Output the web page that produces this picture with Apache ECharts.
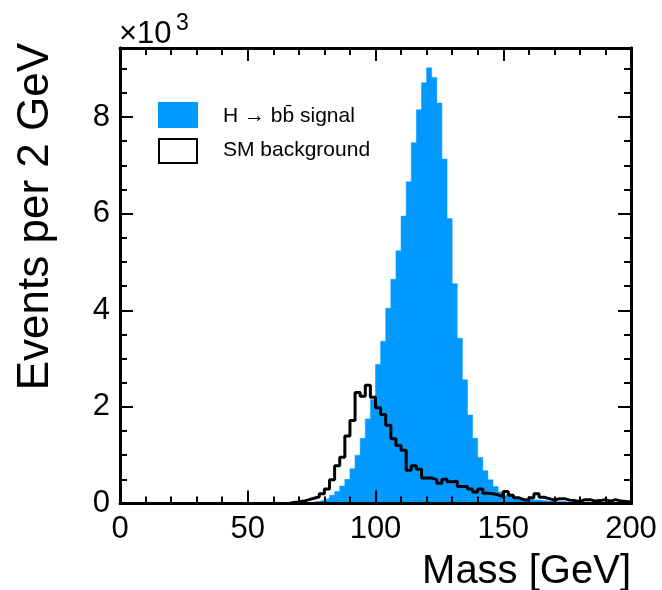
<!DOCTYPE html>
<html>
<head>
<meta charset="utf-8">
<script src="https://cdn.jsdelivr.net/npm/echarts@6/dist/echarts.min.js"></script>
<style>
  html, body { margin: 0; padding: 0; background: #fff; }
  #chart { width: 662px; height: 590px; }
</style>
</head>
<body>
<div id="chart"></div>
<script>
// Histogram binning: 100 bins of 2 GeV from 0 to 200 GeV
const BIN_WIDTH = 2;
const X_MIN = 0, X_MAX = 200;

// Signal: H -> bb̄ (events per 2 GeV, in units of 10^3)
const signalCounts = [
  0, 0, 0, 0, 0, 0, 0, 0, 0, 0,
  0, 0, 0, 0, 0, 0, 0, 0, 0, 0,
  0, 0, 0, 0, 0, 0, 0, 0, 0, 0,
  0, 0, 0, 0, 0.01, 0.015, 0.02, 0.03, 0.045, 0.07,
  0.11, 0.17, 0.25, 0.36, 0.5, 0.72, 1.0, 1.35, 1.75, 2.15,
  2.88, 3.36, 4.04, 4.64, 5.23, 5.95, 6.66, 7.47, 8.15, 8.71,
  9.02, 8.82, 8.29, 7.13, 5.9, 4.55, 3.42, 2.56, 1.83, 1.35,
  0.95, 0.68, 0.49, 0.35, 0.24, 0.17, 0.14, 0.12, 0.1, 0.09,
  0.08, 0.07, 0.06, 0.05, 0.05, 0.04, 0.04, 0.03, 0.03, 0.03,
  0.02, 0.02, 0.02, 0.02, 0.02, 0.01, 0.01, 0.01, 0.01, 0.01
];

// SM background (events per 2 GeV, in units of 10^3)
const backgroundCounts = [
  0, 0, 0, 0, 0, 0, 0, 0, 0, 0,
  0, 0, 0, 0, 0, 0, 0, 0, 0, 0,
  0, 0, 0, 0, 0, 0, 0, 0, 0, 0,
  0, 0, 0, 0.02, 0.03, 0.05, 0.08, 0.11, 0.14, 0.2,
  0.3, 0.49, 0.78, 0.96, 1.4, 1.72, 2.3, 2.22, 2.45, 2.2,
  1.98, 1.84, 1.62, 1.34, 1.2, 1.1, 0.69, 0.78, 0.71, 0.53,
  0.53, 0.49, 0.42, 0.5, 0.45, 0.46, 0.35, 0.35, 0.3, 0.24,
  0.3, 0.21, 0.2, 0.18, 0.14, 0.25, 0.17, 0.12, 0.08, 0.07,
  0.12, 0.2, 0.13, 0.1, 0.07, 0.1, 0.1, 0.07, 0.06, 0.04,
  0.08, 0.08, 0.05, 0.06, 0.08, 0.05, 0.08, 0.05, 0.04, 0.03
];

const xTickValues = [0, 50, 100, 150, 200];
const yTickValues = [0, 2, 4, 6, 8];
const Y_MAX = 9.43;

const seriesNames = ['H \u2192 bb\u0304 signal', 'SM background'];
const xTitle = 'Mass [GeV]';
const yTitle = 'Events per 2 GeV';

// Build step data: left edge of each bin + closing right edge
function stepData(counts) {
  const pts = counts.map((v, i) => [X_MIN + i * BIN_WIDTH, v]);
  pts.push([X_MIN + counts.length * BIN_WIDTH, counts[counts.length - 1]]);
  return pts;
}

const FONT = "'Liberation Sans', Arial, Helvetica, sans-serif";
const chart = echarts.init(document.getElementById('chart'), null, { renderer: 'canvas' });

function xAxisDef(pos, showLabels) {
  return {
    type: 'value', position: pos, min: X_MIN, max: X_MAX, interval: 50, z: 10,
    axisLine: { show: true, onZero: false, lineStyle: { color: '#000', width: 3 } },
    axisTick: { show: true, inside: true, length: 13, lineStyle: { color: '#000', width: 2 } },
    minorTick: { show: true, splitNumber: 5, length: 7, lineStyle: { color: '#000', width: 2 } },
    splitLine: { show: false }, minorSplitLine: { show: false },
    axisLabel: {
      show: showLabels, color: '#000', fontSize: 31, fontFamily: FONT, margin: 10,
      formatter: v => (xTickValues.indexOf(v) >= 0 ? String(v) : '')
    }
  };
}
function yAxisDef(pos, interval, tickLen, showLabels) {
  return {
    type: 'value', position: pos, min: 0, max: Y_MAX, interval: interval, z: 10,
    axisLine: { show: true, onZero: false, lineStyle: { color: '#000', width: 3 } },
    axisTick: { show: true, inside: true, length: tickLen, lineStyle: { color: '#000', width: 2 } },
    splitLine: { show: false },
    axisLabel: {
      show: showLabels, color: '#000', fontSize: 31, fontFamily: FONT, margin: 10,
      formatter: v => (yTickValues.indexOf(v) >= 0 ? String(v) : '')
    }
  };
}

const option = {
  animation: false,
  backgroundColor: '#fff',
  grid: { left: 120, right: 31, top: 48, bottom: 86.5, containLabel: false },
  xAxis: [xAxisDef('bottom', true), xAxisDef('top', false)],
  yAxis: [
    yAxisDef('left', 2, 13, true),
    yAxisDef('left', 0.5, 7, false),
    yAxisDef('right', 2, 13, false),
    yAxisDef('right', 0.5, 7, false)
  ],
  series: [
    {
      name: seriesNames[0], type: 'line', step: 'end', xAxisIndex: 0, yAxisIndex: 0,
      data: stepData(signalCounts), showSymbol: false, symbol: 'none', z: 2,
      lineStyle: { color: '#0099ff', width: 0.5 },
      areaStyle: { color: '#0099ff', opacity: 1, origin: 'start' }
    },
    {
      name: seriesNames[1], type: 'line', step: 'end', xAxisIndex: 0, yAxisIndex: 0,
      data: stepData(backgroundCounts), showSymbol: false, symbol: 'none', z: 3,
      lineStyle: { color: '#000', width: 3 }
    }
  ],
  graphic: [
    // axis titles
    { type: 'text', x: 631, y: 572, z: 20,
      style: { text: xTitle, fill: '#000', font: '40px ' + FONT, align: 'right', verticalAlign: 'middle' } },
    { type: 'text', x: 36, y: 43, rotation: Math.PI / 2, z: 20,
      style: { text: yTitle, fill: '#000', font: '44px ' + FONT, align: 'right', verticalAlign: 'middle' } },
    // x10^3 multiplier
    { type: 'text', x: 119, y: 34, z: 20,
      style: { text: '\u00d710', fill: '#000', font: '31px ' + FONT, align: 'left', verticalAlign: 'middle' } },
    { type: 'text', x: 176, y: 24, z: 20,
      style: { text: '3', fill: '#000', font: '23px ' + FONT, align: 'left', verticalAlign: 'middle' } },
    // legend
    { type: 'rect', shape: { x: 158, y: 102, width: 40, height: 26 }, z: 20,
      style: { fill: '#0099ff' } },
    { type: 'rect', shape: { x: 159, y: 139, width: 38, height: 24 }, z: 20,
      style: { fill: '#fff', stroke: '#000', lineWidth: 2 } },
    { type: 'text', x: 223, y: 116, z: 20,
      style: { text: seriesNames[0], fill: '#000', font: '21px ' + FONT, align: 'left', verticalAlign: 'middle' } },
    { type: 'text', x: 223, y: 150, z: 20,
      style: { text: seriesNames[1], fill: '#000', font: '21px ' + FONT, align: 'left', verticalAlign: 'middle' } }
  ]
};
chart.setOption(option);
</script>
</body>
</html>
